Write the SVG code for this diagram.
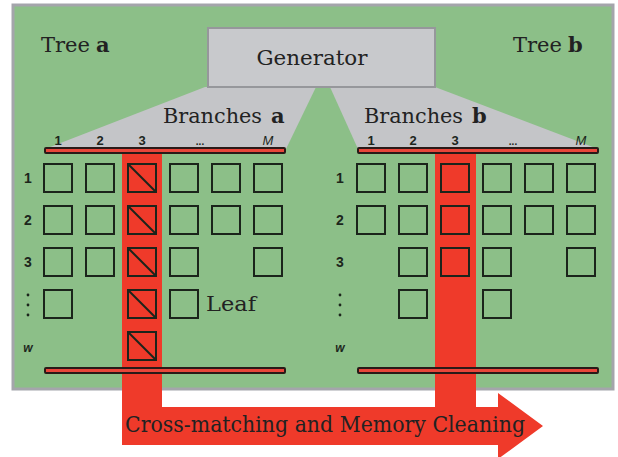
<svg xmlns="http://www.w3.org/2000/svg" width="618" height="457" viewBox="0 0 618 457">
  <style>
    .serif { font-family: "DejaVu Serif", "Liberation Serif", serif; fill: #222222; }
    .bold { font-weight: bold; }
    .num { font-family: "Liberation Sans", Arial, sans-serif; font-weight: bold; fill: #1c261c; }
    .cell { fill: none; stroke: #1b241b; stroke-width: 2; }
    .cell-hit { fill: #ef3a2a; stroke: #1b241b; stroke-width: 2; }
    .slash { stroke: #1b241b; stroke-width: 2; }
    .bar { fill: #e8463a; stroke: #2a1a18; stroke-width: 2; }
    .fan { fill: #c4c5c8; }
    .flow { fill: #ef3a2a; }
  </style>

  <!-- panel -->
  <rect x="13" y="5" width="600" height="384" fill="#8cbf88" stroke="#a4a5ab" stroke-width="3"/>

  <!-- generator fans out to the two branch sets -->
  <g id="connectors">
    <polygon class="fan" points="205,87 316,87 286,149 45,149"/>
    <polygon class="fan" points="330,87 435,87 598,149 358,149"/>
  </g>

  <g id="generator">
    <rect x="208" y="28" width="227" height="59" fill="#c8c9cc" stroke="#96979b" stroke-width="2"/>
    <text class="serif" x="312" y="65" font-size="21" text-anchor="middle" textLength="111" lengthAdjust="spacingAndGlyphs">Generator</text>
  </g>

  <g id="tree-a-label">
    <text class="serif" x="41" y="52" font-size="21" textLength="49" lengthAdjust="spacingAndGlyphs">Tree</text>
    <text class="serif bold" x="96" y="52" font-size="21">a</text>
  </g>
  <g id="tree-b-label">
    <text class="serif" x="513" y="52" font-size="21" textLength="49" lengthAdjust="spacingAndGlyphs">Tree</text>
    <text class="serif bold" x="568" y="52" font-size="21">b</text>
  </g>

  <!-- cross-matching flow: two columns joined into one arrow -->
  <g id="flow">
    <polygon class="flow" points="122,152 162,152 162,407 435,407 435,152 476,152 476,407 498,407 498,393 543,426 498,459 498,445 122,445"/>
    <text class="serif" x="125" y="432" font-size="22" textLength="400" lengthAdjust="spacingAndGlyphs">Cross-matching and Memory Cleaning</text>
  </g>

  <!-- Branches a -->
  <g id="branches-a">
    <text class="serif" x="163" y="123" font-size="21" textLength="99" lengthAdjust="spacingAndGlyphs">Branches</text>
    <text class="serif bold" x="271" y="123" font-size="21">a</text>
    <g class="num" font-size="13" text-anchor="middle">
      <text x="58" y="145">1</text>
      <text x="100" y="145">2</text>
      <text x="142" y="145">3</text>
      <text x="200" y="145" font-size="10">...</text>
      <text x="268" y="145" font-style="italic" font-weight="normal">M</text>
    </g>
    <rect class="bar" x="45" y="148" width="240" height="5" rx="1"/>
    <rect class="bar" x="45" y="368" width="240" height="5" rx="1"/>
    <g class="num" font-size="14" text-anchor="middle">
      <text x="28" y="183">1</text>
      <text x="28" y="225">2</text>
      <text x="28" y="267">3</text>
      <text x="28" y="352" font-style="italic" font-size="12">w</text>
    </g>
    <g fill="#1c261c">
      <circle cx="28" cy="295" r="1.4"/>
      <circle cx="28" cy="305" r="1.4"/>
      <circle cx="28" cy="315" r="1.4"/>
    </g>
  </g>

  <g id="grid-a">
    <!-- row 1 -->
    <rect class="cell" x="44" y="164" width="28" height="28"/>
    <rect class="cell" x="86" y="164" width="28" height="28"/>
    <rect class="cell" x="128" y="164" width="28" height="28"/>
    <rect class="cell" x="170" y="164" width="28" height="28"/>
    <rect class="cell" x="212" y="164" width="28" height="28"/>
    <rect class="cell" x="254" y="164" width="28" height="28"/>
    <!-- row 2 -->
    <rect class="cell" x="44" y="206" width="28" height="28"/>
    <rect class="cell" x="86" y="206" width="28" height="28"/>
    <rect class="cell" x="128" y="206" width="28" height="28"/>
    <rect class="cell" x="170" y="206" width="28" height="28"/>
    <rect class="cell" x="212" y="206" width="28" height="28"/>
    <rect class="cell" x="254" y="206" width="28" height="28"/>
    <!-- row 3 -->
    <rect class="cell" x="44" y="248" width="28" height="28"/>
    <rect class="cell" x="86" y="248" width="28" height="28"/>
    <rect class="cell" x="128" y="248" width="28" height="28"/>
    <rect class="cell" x="170" y="248" width="28" height="28"/>
    <rect class="cell" x="254" y="248" width="28" height="28"/>
    <!-- row 4 -->
    <rect class="cell" x="44" y="290" width="28" height="28"/>
    <rect class="cell" x="128" y="290" width="28" height="28"/>
    <rect class="cell" x="170" y="290" width="28" height="28"/>
    <!-- row w -->
    <rect class="cell" x="128" y="332" width="28" height="28"/>
    <!-- matched leaves in column 3 -->
    <line class="slash" x1="128" y1="164" x2="156" y2="192"/>
    <line class="slash" x1="128" y1="206" x2="156" y2="234"/>
    <line class="slash" x1="128" y1="248" x2="156" y2="276"/>
    <line class="slash" x1="128" y1="290" x2="156" y2="318"/>
    <line class="slash" x1="128" y1="332" x2="156" y2="360"/>
    <text class="serif" x="206" y="311" font-size="21" textLength="50" lengthAdjust="spacingAndGlyphs">Leaf</text>
  </g>

  <!-- Branches b -->
  <g id="branches-b">
    <text class="serif" x="364" y="123" font-size="21" textLength="99" lengthAdjust="spacingAndGlyphs">Branches</text>
    <text class="serif bold" x="472" y="123" font-size="21">b</text>
    <g class="num" font-size="13" text-anchor="middle">
      <text x="371" y="145">1</text>
      <text x="413" y="145">2</text>
      <text x="455" y="145">3</text>
      <text x="513" y="145" font-size="10">...</text>
      <text x="581" y="145" font-style="italic" font-weight="normal">M</text>
    </g>
    <rect class="bar" x="358" y="148" width="240" height="5" rx="1"/>
    <rect class="bar" x="358" y="368" width="240" height="5" rx="1"/>
    <g class="num" font-size="14" text-anchor="middle">
      <text x="340" y="183">1</text>
      <text x="340" y="225">2</text>
      <text x="340" y="267">3</text>
      <text x="340" y="352" font-style="italic" font-size="12">w</text>
    </g>
    <g fill="#1c261c">
      <circle cx="340" cy="295" r="1.4"/>
      <circle cx="340" cy="305" r="1.4"/>
      <circle cx="340" cy="315" r="1.4"/>
    </g>
  </g>

  <g id="grid-b">
    <!-- row 1 -->
    <rect class="cell" x="357" y="164" width="28" height="28"/>
    <rect class="cell" x="399" y="164" width="28" height="28"/>
    <rect class="cell-hit" x="441" y="164" width="28" height="28"/>
    <rect class="cell" x="483" y="164" width="28" height="28"/>
    <rect class="cell" x="525" y="164" width="28" height="28"/>
    <rect class="cell" x="567" y="164" width="28" height="28"/>
    <!-- row 2 -->
    <rect class="cell" x="357" y="206" width="28" height="28"/>
    <rect class="cell" x="399" y="206" width="28" height="28"/>
    <rect class="cell-hit" x="441" y="206" width="28" height="28"/>
    <rect class="cell" x="483" y="206" width="28" height="28"/>
    <rect class="cell" x="525" y="206" width="28" height="28"/>
    <rect class="cell" x="567" y="206" width="28" height="28"/>
    <!-- row 3 -->
    <rect class="cell" x="399" y="248" width="28" height="28"/>
    <rect class="cell-hit" x="441" y="248" width="28" height="28"/>
    <rect class="cell" x="483" y="248" width="28" height="28"/>
    <rect class="cell" x="567" y="248" width="28" height="28"/>
    <!-- row 4 -->
    <rect class="cell" x="399" y="290" width="28" height="28"/>
    <rect class="cell" x="483" y="290" width="28" height="28"/>
  </g>
</svg>
